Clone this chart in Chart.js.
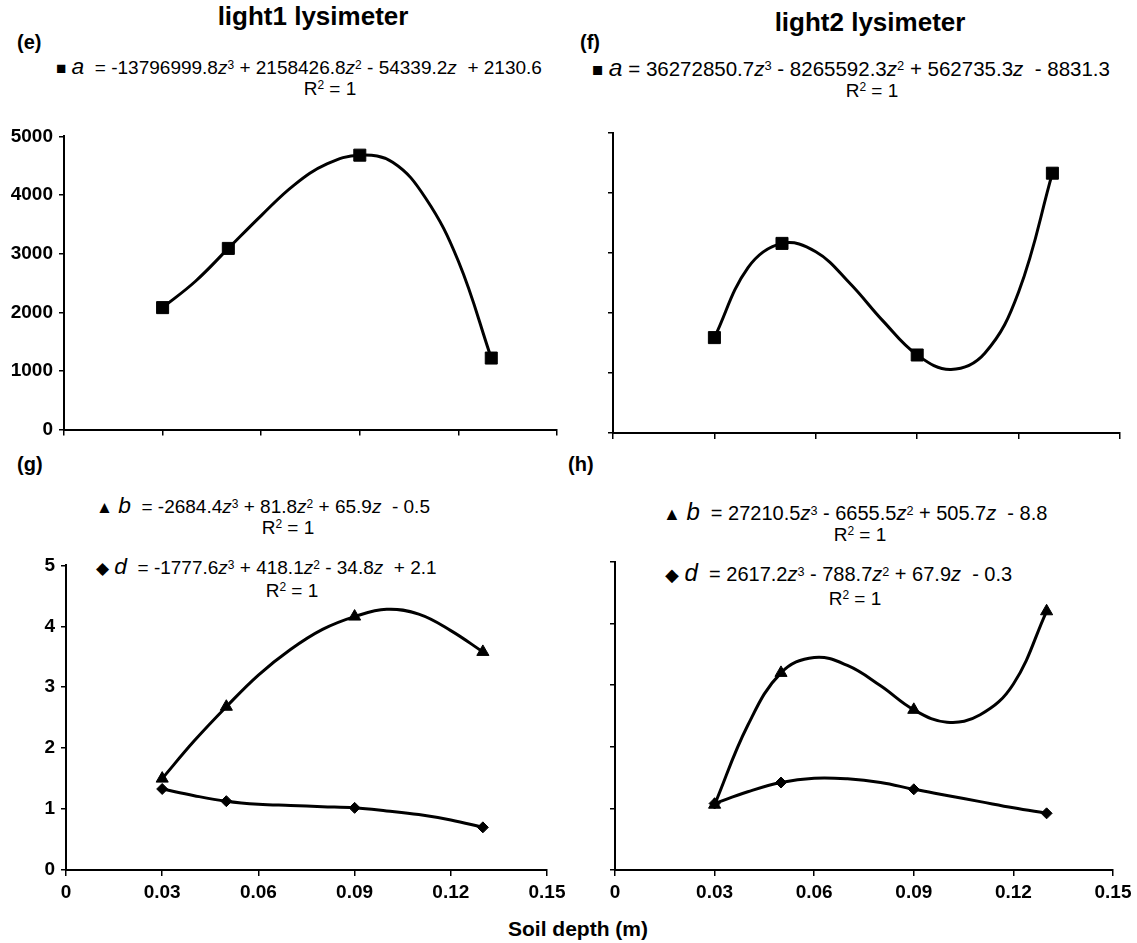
<!DOCTYPE html>
<html>
<head>
<title>Soil depth - light1 / light2 lysimeter</title>
<script src="https://cdn.jsdelivr.net/npm/chart.js@4.4.1/dist/chart.umd.min.js"></script>
<style>
  body { margin: 0; background: #fff; }
  #page { position: relative; width: 1137px; height: 943px; overflow: hidden;
          font-family: "Liberation Sans", Arial, sans-serif; color: #000; }
  canvas { position: absolute; }
  .txt { position: absolute; white-space: pre; line-height: 1; transform: translateY(-50%); }
  .ctr { transform: translate(-50%, -50%); }
  .title { font-size: 26px; font-weight: bold; }
  .tag { font-size: 20px; font-weight: bold; }
  .eq { font-size: 19px; }
  .eq.wide { font-size: 20px; }
  .eq.wider { font-size: 20.5px; }
  .eq sup { font-size: 0.63em; vertical-align: 0.42em; }
  .eq .v { font-size: 1.2em; font-style: italic; }
  .eq .mk { font-size: 0.9em; }
  .axis { font-size: 21px; font-weight: bold; }
</style>
</head>
<body>
<div id="page">
  <!-- titles and panel tags -->
  <div class="txt ctr title" style="left:313px; top:16px;">light1 lysimeter</div>
  <div class="txt ctr title" style="left:870px; top:22px;">light2 lysimeter</div>
  <div class="txt tag" style="left:17px; top:42px;">(e)</div>
  <div class="txt tag" style="left:580px; top:42px;">(f)</div>
  <div class="txt tag" style="left:17px; top:464px;">(g)</div>
  <div class="txt tag" style="left:568px; top:464px;">(h)</div>

  <!-- trend line equations -->
  <div class="txt eq" style="left:56px; top:66px;"><span class="mk">■</span> <span class="v">a</span>  = -13796999.8<i>z</i><sup>3</sup> + 2158426.8<i>z</i><sup>2</sup> - 54339.2<i>z</i>  + 2130.6</div>
  <div class="txt ctr eq" style="left:330px; top:88px;">R<sup>2</sup> = 1</div>
  <div class="txt eq wider" style="left:592px; top:68px;"><span class="mk">■</span> <span class="v">a</span> = 36272850.7<i>z</i><sup>3</sup> - 8265592.3<i>z</i><sup>2</sup> + 562735.3<i>z</i>  - 8831.3</div>
  <div class="txt ctr eq" style="left:872px; top:90px;">R<sup>2</sup> = 1</div>

  <div class="txt eq" style="left:96px; top:505px;"><span class="mk">▲</span> <span class="v">b</span>  = -2684.4<i>z</i><sup>3</sup> + 81.8<i>z</i><sup>2</sup> + 65.9<i>z</i>  - 0.5</div>
  <div class="txt ctr eq" style="left:288px; top:527px;">R<sup>2</sup> = 1</div>
  <div class="txt eq" style="left:96px; top:566px;"><span class="mk">◆</span> <span class="v">d</span>  = -1777.6<i>z</i><sup>3</sup> + 418.1<i>z</i><sup>2</sup> - 34.8<i>z</i>  + 2.1</div>
  <div class="txt ctr eq" style="left:292px; top:590px;">R<sup>2</sup> = 1</div>

  <div class="txt eq wide" style="left:663px; top:512px;"><span class="mk">▲</span> <span class="v">b</span>  = 27210.5<i>z</i><sup>3</sup> - 6655.5<i>z</i><sup>2</sup> + 505.7<i>z</i>  - 8.8</div>
  <div class="txt ctr eq" style="left:860px; top:534px;">R<sup>2</sup> = 1</div>
  <div class="txt eq wide" style="left:665px; top:573px;"><span class="mk">◆</span> <span class="v">d</span>  = 2617.2<i>z</i><sup>3</sup> - 788.7<i>z</i><sup>2</sup> + 67.9<i>z</i>  - 0.3</div>
  <div class="txt ctr eq" style="left:855px; top:598px;">R<sup>2</sup> = 1</div>

  <div class="txt ctr axis" style="left:578px; top:928px;">Soil depth (m)</div>

  <canvas id="chartE"></canvas>
  <canvas id="chartF"></canvas>
  <canvas id="chartG"></canvas>
  <canvas id="chartH"></canvas>
</div>

<script>
// sampled soil depths (m) and the measured values (markers)
var depth = [0.03, 0.05, 0.09, 0.13];
var light1A = [2080, 3090, 4680, 1220];
var light2A = [1590, 3160, 1300, 4330];
var light1B = [1.50, 2.68, 4.16, 3.58];
var light1D = [1.33, 1.13, 1.02, 0.70];
var light2B = [1.06, 3.20, 2.60, 4.20];
var light2D = [1.08, 1.42, 1.31, 0.92];

// trend curves as they are drawn in the figure, read every 0.01 m
var trendDepth = [0.03, 0.04, 0.05, 0.06, 0.07, 0.08, 0.09, 0.10, 0.11, 0.12, 0.13];
var light1ATrend = [2080, 2530, 3090, 3650, 4170, 4530, 4680, 4560, 3950, 2870, 1220];
var light2ATrend = [1590, 2760, 3160, 3020, 2500, 1860, 1300, 1060, 1330, 2350, 4330];
var light1BTrend = [1.50, 2.12, 2.68, 3.20, 3.62, 3.95, 4.16, 4.28, 4.20, 3.93, 3.58];
var light1DTrend = [1.33, 1.22, 1.13, 1.08, 1.06, 1.04, 1.02, 0.97, 0.91, 0.82, 0.70];
var light2BTrend = [1.06, 2.35, 3.20, 3.45, 3.32, 2.99, 2.60, 2.40, 2.52, 3.02, 4.20];
var light2DTrend = [1.08, 1.27, 1.42, 1.49, 1.48, 1.42, 1.31, 1.21, 1.11, 1.01, 0.92];

// axis ticks
var xTicks = [0, 0.03, 0.06, 0.09, 0.12, 0.15];
var yTicksA = [0, 1000, 2000, 3000, 4000, 5000];
var yTicksBD = [0, 1, 2, 3, 4, 5];

var FONT = '"Liberation Sans", Arial, sans-serif';

function xy(xs, ys) {
	return xs.map(function (x, i) { return { x: x, y: ys[i] }; });
}

// measured points, markers only
function markers(ys, style, radius) {
	return {
		data: xy(depth, ys),
		showLine: false,
		pointStyle: style,
		pointRadius: radius,
		pointBorderWidth: 1,
		pointBackgroundColor: '#000',
		pointBorderColor: '#000'
	};
}

// the smooth trend curve, no markers
function trend(ys) {
	return {
		data: xy(trendDepth, ys),
		showLine: true,
		tension: 0.4,
		borderColor: '#000',
		borderWidth: 3,
		pointRadius: 0
	};
}

// area = plot area in page pixels, pad = room round it for axes and labels
function panel(id, area, pad, sets, yTicks, showY, showX) {
	var cv = document.getElementById(id);
	var w = area.w + pad.l + pad.r, h = area.h + pad.t + pad.b;
	cv.width = w; cv.height = h;
	cv.style.width = w + 'px'; cv.style.height = h + 'px';
	cv.style.left = (area.x - pad.l) + 'px';
	cv.style.top = (area.y - pad.t) + 'px';

	new Chart(cv, {
		type: 'scatter',
		data: { datasets: sets },
		options: {
			responsive: false,
			animation: false,
			devicePixelRatio: 1,
			layout: { padding: { top: pad.t, right: pad.r, left: 0, bottom: 0 } },
			plugins: { legend: { display: false }, tooltip: { enabled: false } },
			scales: {
				x: {
					type: 'linear', min: 0, max: 0.15,
					afterBuildTicks: function (s) { s.ticks = xTicks.map(function (v) { return { value: v }; }); },
					afterFit: function (s) { s.height = pad.b; },
					border: { display: true, color: '#000', width: 2 },
					grid: { drawOnChartArea: false, drawTicks: true, tickLength: 6, color: '#000', lineWidth: 1.5 },
					ticks: {
						display: showX, color: '#000', padding: 5, maxRotation: 0, autoSkip: false,
						font: { family: FONT, size: 19, weight: 'bold' },
						callback: function (v) { return String(Math.round(v * 100) / 100); }
					}
				},
				y: {
					type: 'linear', min: yTicks[0], max: yTicks[yTicks.length - 1],
					afterBuildTicks: function (s) { s.ticks = yTicks.map(function (v) { return { value: v }; }); },
					afterFit: function (s) { s.width = pad.l; },
					border: { display: true, color: '#000', width: 2 },
					grid: { drawOnChartArea: false, drawTicks: true, tickLength: 5, color: '#000', lineWidth: 1.5 },
					ticks: {
						display: showY, color: '#000', padding: 6,
						font: { family: FONT, size: 19, weight: 'bold' },
						callback: function (v) { return String(v); }
					}
				}
			}
		}
	});
}

panel('chartE', { x: 64, y: 133, w: 493, h: 300 }, { l: 64, r: 20, t: 14, b: 14 },
	[markers(light1A, 'rect', 8.5), trend(light1ATrend)], yTicksA, true, false);
panel('chartF', { x: 613, y: 133, w: 507, h: 300 }, { l: 20, r: 14, t: 14, b: 14 },
	[markers(light2A, 'rect', 8.5), trend(light2ATrend)], yTicksA, false, false);
panel('chartG', { x: 66, y: 562, w: 481, h: 308 }, { l: 66, r: 26, t: 14, b: 46 },
	[markers(light1B, 'triangle', 7), markers(light1D, 'rectRot', 5.5),
	 trend(light1BTrend), trend(light1DTrend)], yTicksBD, true, true);
panel('chartH', { x: 615, y: 562, w: 498, h: 308 }, { l: 20, r: 24, t: 14, b: 46 },
	[markers(light2B, 'triangle', 7), markers(light2D, 'rectRot', 5.5),
	 trend(light2BTrend), trend(light2DTrend)], yTicksBD, false, true);
</script>
</body>
</html>
